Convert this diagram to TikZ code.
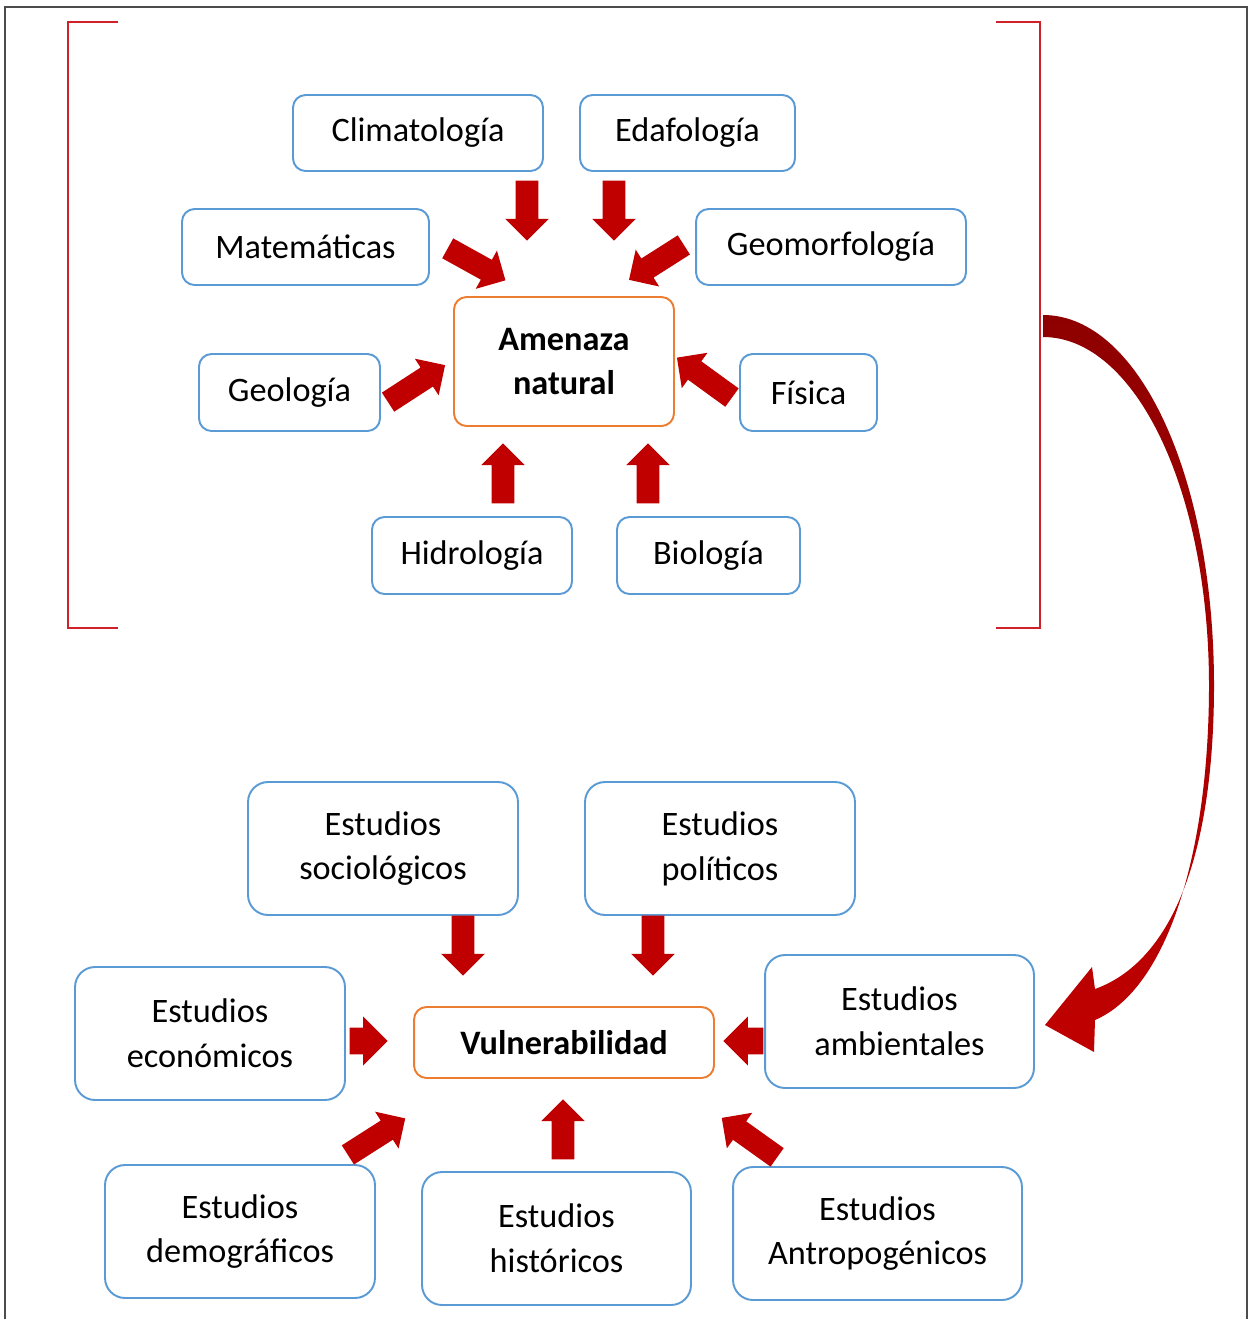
\documentclass[tikz,border=0pt]{standalone}
\usepackage{xcolor}
\usepackage{fontspec}
\setmainfont{Carlito}
\usepackage{tikz}
\usetikzlibrary{shapes.arrows}

\definecolor{azul}{HTML}{5B9BD5}
\definecolor{naranja}{HTML}{ED7D31}
\definecolor{rojo}{HTML}{C00000}
\definecolor{rojoosc}{HTML}{8E0000}
\definecolor{corchete}{HTML}{D0202A}

\tikzset{
    caja/.style={draw=azul, line width=1.1pt, rounded corners=0.25cm, fill=white, align=center, inner sep=0pt},
    cajag/.style={caja, rounded corners=0.4cm, minimum width=5.4cm, minimum height=2.66cm},
    centro/.style={caja, draw=naranja, font=\fontsize{19.5}{25}\selectfont\bfseries},
    flecha/.style={single arrow, fill=rojo, draw=none, inner xsep=0pt, inner ysep=0.22cm, minimum width=0.86cm,
        single arrow head extend=0.21cm, minimum height=1.2cm, rotate=#1, xshift=-0.1cm},
    flecha/.default=0,
}

\begin{document}
\begin{tikzpicture}[x=0.02cm, y=-0.02cm, font=\fontsize{19.5}{25.5}\selectfont]
        \useasboundingbox (0,0) rectangle (1249,1319);
        \draw[line width=1pt, black!70] (5,1319) -- (5,7) -- (1247,7) -- (1247,1319);
        % corchetes
        \draw[corchete, line width=1.1pt] (118,22) -- (68,22) -- (68,628) -- (118,628);
        \draw[corchete, line width=1.1pt] (996,22) -- (1040,22) -- (1040,628) -- (996,628);

        % amenaza natural
        \node[centro, minimum width=4.4cm, minimum height=2.58cm] (am) at (564,361.5) {Amenaza\\natural};
        \node[caja, minimum width=5cm, minimum height=1.52cm] (clim) at (418,133) {Climatología};
        \node[caja, minimum width=4.3cm, minimum height=1.52cm] (edaf) at (687.5,133) {Edafología};
        \node[caja, minimum width=4.94cm, minimum height=1.52cm] (mate) at (305.5,247) {Matemáticas};
        \node[caja, minimum width=5.4cm, minimum height=1.52cm] (geom) at (831,247) {Geomorfología};
        \node[caja, minimum width=3.62cm, minimum height=1.54cm] (geol) at (289.5,392.5) {Geología};
        \node[caja, minimum width=2.74cm, minimum height=1.54cm] (fisi) at (808.5,392.5) {Física};
        \node[caja, minimum width=4cm, minimum height=1.54cm] (hidr) at (472,555.5) {Hidrología};
        \node[caja, minimum width=3.66cm, minimum height=1.54cm] (biol) at (708.5,555.5) {Biología};

        \node[flecha=-90] (f1) at (527,210) {};
        \node[flecha=-90] (f2) at (614,210) {};
        \node[flecha=-29, minimum height=1.32cm] (f3) at (476,264) {};
        \node[flecha=-147.5, minimum height=1.3cm] (f4) at (657,262) {};
        \node[flecha=33, minimum height=1.36cm] (f5) at (416,384) {};
        \node[flecha=144, minimum height=1.36cm] (f6) at (705,378) {};
        \node[flecha=90] (f7) at (503,474) {};
        \node[flecha=90] (f8) at (648,474) {};

        % vulnerabilidad
        \node[centro, minimum width=6cm, minimum height=1.42cm] (vu) at (564,1042.5) {Vulnerabilidad};
        \node[cajag] (soci) at (383,848.5) {Estudios\\sociológicos};
        \node[cajag] (poli) at (720,848.5) {Estudios\\políticos};
        \node[cajag] (econ) at (210,1033.5) {Estudios\\económicos};
        \node[cajag, minimum width=5.38cm] (ambi) at (899.5,1021.5) {Estudios\\ambientales};
        \node[cajag] (demo) at (240,1231.5) {Estudios\\demográficos};
        \node[cajag, minimum width=5.38cm] (hist) at (556.5,1238.5) {Estudios\\históricos};
        \node[cajag, minimum width=5.78cm] (antr) at (877.5,1233.5) {Estudios\\Antropogénicos};

        \node[flecha=-90] (g1) at (463,945) {};
        \node[flecha=-90] (g2) at (653,945) {};
        \node[flecha, inner ysep=0.26cm, minimum height=0.76cm, minimum width=0.98cm, single arrow head extend=0.22cm] (g3) at (367,1041) {};
        \node[flecha=180, inner ysep=0.26cm, minimum height=0.8cm, minimum width=0.98cm, single arrow head extend=0.22cm] (g4) at (745,1041) {};
        \node[flecha=32.5, minimum height=1.36cm] (g5) at (376,1137) {};
        \node[flecha=90] (g6) at (563,1130) {};
        \node[flecha=144.5, minimum height=1.36cm] (g7) at (750,1138) {};

        % flecha curva
        \shade[top color=rojoosc, bottom color=rojo]
            (1043,315) .. controls (1140,315) and (1215,480) .. (1214,690)
            .. controls (1213,860) and (1170,962) .. (1095,989)
            -- (1092,967) -- (1045,1025) -- (1094,1052) -- (1095,1020)
            .. controls (1165,990) and (1208,860) .. (1209,690)
            .. controls (1210,490) and (1135,337) .. (1043,337) -- cycle;
    \end{tikzpicture}
\end{document}
